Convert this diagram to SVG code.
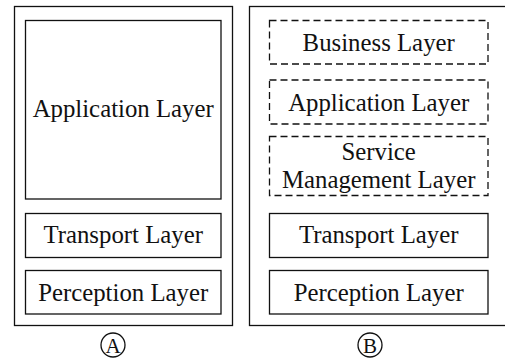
<svg xmlns="http://www.w3.org/2000/svg" width="505" height="364" viewBox="0 0 505 364">
<style>
.box{fill:none;stroke:#111;stroke-width:1.3}
.dash{fill:none;stroke:#111;stroke-width:1.3;stroke-dasharray:7 4}
.t{font-family:'Liberation Serif','Times New Roman',serif;font-size:24.8px;fill:#111;text-anchor:middle}
.lbl{font-size:21px}
</style>
<rect width="505" height="364" fill="#fff"/>
<g id="panelA">
<rect class="box" x="14.5" y="6.5" width="218" height="319"/>
<g id="A-app"><rect class="box" x="25.5" y="20.5" width="195.5" height="178.5"/><text class="t" x="123.2" y="117">Application Layer</text></g>
<g id="A-transport"><rect class="box" x="25.5" y="213.5" width="195.5" height="44"/><text class="t" x="123.2" y="243">Transport Layer</text></g>
<g id="A-perception"><rect class="box" x="25.5" y="270.5" width="195.5" height="43.5"/><text class="t" x="123.2" y="300.5">Perception Layer</text></g>
<g id="A-label"><circle class="box" cx="113" cy="345" r="12"/><text class="t lbl" x="113" y="352.5">A</text></g>
</g>
<g id="panelB">
<rect class="box" x="249.5" y="6.5" width="260" height="319"/>
<g id="B-business"><rect class="dash" x="269.5" y="20.5" width="218.5" height="43.5"/><text class="t" x="378.7" y="50.5">Business Layer</text></g>
<g id="B-app"><rect class="dash" x="269.5" y="80" width="218.5" height="44"/><text class="t" x="378.7" y="110.5">Application Layer</text></g>
<g id="B-service"><rect class="dash" x="269.5" y="136.5" width="218.5" height="59"/><text class="t" x="378.7" y="159.5">Service</text><text class="t" x="378.7" y="187.5">Management Layer</text></g>
<g id="B-transport"><rect class="box" x="269.5" y="213.5" width="218.5" height="44"/><text class="t" x="378.7" y="243">Transport Layer</text></g>
<g id="B-perception"><rect class="box" x="269.5" y="270.5" width="218.5" height="43.5"/><text class="t" x="378.7" y="300.5">Perception Layer</text></g>
<g id="B-label"><circle class="box" cx="370" cy="345" r="12"/><text class="t lbl" x="370" y="352.5">B</text></g>
</g>
<g id="connectors"/>
</svg>
